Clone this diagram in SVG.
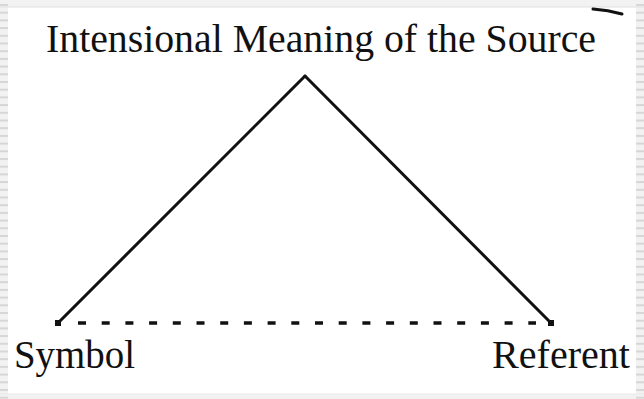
<svg xmlns="http://www.w3.org/2000/svg" width="644" height="399" viewBox="0 0 644 399">
<defs>
<style>
.lbl{font-family:"Liberation Serif","Times New Roman",serif;font-size:40px;fill:#111}
.edge{stroke:#111;stroke-width:3;fill:none;stroke-linecap:round}
.dash{stroke:#111;stroke-width:3.5;fill:none;stroke-dasharray:8 15.7}
.tick{fill:#d6d6d6}
</style>
<pattern id="ticks" x="0" y="4" width="8" height="7.7" patternUnits="userSpaceOnUse">
<rect x="0" y="0" width="8" height="2" class="tick"/>
</pattern>
</defs>
<rect width="644" height="399" fill="#f2f2f2"/>
<rect x="0" y="0" width="8" height="399" fill="url(#ticks)"/>
<rect x="636" y="0" width="8" height="399" fill="url(#ticks)"/>
<rect x="8" y="7" width="628" height="387" fill="#ffffff"/>
<line x1="0" y1="7" x2="644" y2="7" stroke="#e0e0e0" stroke-width="1"/>
<line x1="0" y1="394" x2="644" y2="394" stroke="#e8e8e8" stroke-width="1"/>
<path d="M593 9 Q608 10 622 14" stroke="#111" stroke-width="3" fill="none" stroke-linecap="round"/>
<g id="connectors">
<line class="edge" x1="58" y1="323" x2="305" y2="76"/>
<line class="edge" x1="305" y1="76" x2="551" y2="323"/>
<line class="dash" x1="78" y1="323" x2="536" y2="323"/>
<rect x="55" y="320" width="6" height="6" fill="#111"/>
<rect x="548" y="320" width="6" height="6" fill="#111"/>
</g>
<g id="source"><text class="lbl" x="46" y="52" textLength="550" lengthAdjust="spacingAndGlyphs">Intensional Meaning of the Source</text></g>
<g id="symbol"><text class="lbl" x="14" y="368" textLength="121" lengthAdjust="spacingAndGlyphs">Symbol</text></g>
<g id="referent"><text class="lbl" x="492" y="368" textLength="138" lengthAdjust="spacingAndGlyphs">Referent</text></g>
</svg>
